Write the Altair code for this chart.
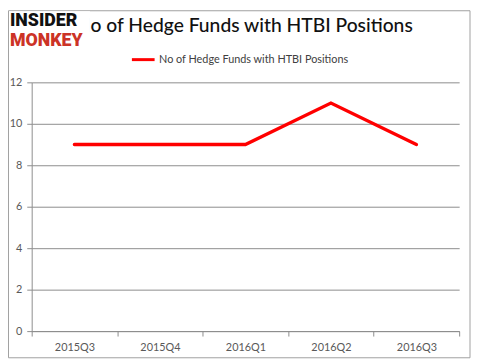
import altair as alt
import pandas as pd

quarters = ["2015Q3", "2015Q4", "2016Q1", "2016Q2", "2016Q3"]
funds = [9, 9, 9, 11, 9]
series_name = "No of Hedge Funds with HTBI Positions"
title_text = "No of Hedge Funds with HTBI Positions"
y_ticks = [0, 2, 4, 6, 8, 10, 12]
logo_words = ["INSIDER", "MONKEY"]

df = pd.DataFrame({"quarter": quarters, "funds": funds, "series": [series_name] * len(quarters)})

FONT = "Lato"
GRAY = "#8C8C8C"

line = alt.Chart(df).mark_line(strokeWidth=3.5, strokeCap="round").encode(
    x=alt.X(
        "quarter:O",
        sort=quarters,
        scale=alt.Scale(type="band", paddingInner=0, paddingOuter=0),
        bandPosition=0.5,
        axis=alt.Axis(
            title=None, labelAngle=0, grid=False, tickBand="extent",
            domainColor=GRAY, tickColor=GRAY, tickSize=5, labelPadding=6,
            labelColor="#595959", labelFont=FONT, labelFontSize=11,
        ),
    ),
    y=alt.Y(
        "funds:Q",
        scale=alt.Scale(domain=[0, 12]),
        axis=alt.Axis(
            title=None, values=y_ticks, grid=True, gridColor=GRAY,
            domainColor=GRAY, tickColor=GRAY, tickSize=5, labelPadding=5,
            labelColor="#595959", labelFont=FONT, labelFontSize=11,
        ),
    ),
    color=alt.Color(
        "series:N",
        scale=alt.Scale(range=["#FF0000"]),
        legend=alt.Legend(
            title=None, orient="none", legendX=100, legendY=-36,
            direction="horizontal", symbolType="stroke", symbolSize=529,
            symbolStrokeWidth=3, labelFont=FONT, labelFontSize=11,
            labelColor="#404040", labelOffset=3, padding=0, labelLimit=0,
        ),
    ),
)

ann_df = pd.DataFrame({"t": [title_text]})
logo_df = pd.DataFrame({"t": logo_words})

title = alt.Chart(ann_df).mark_text(
    font=FONT, fontSize=19.5, fontWeight=500, align="right", baseline="alphabetic", color="#111111"
).encode(text="t:N", x=alt.value(386), y=alt.value(-51))

cover = alt.Chart(ann_df).mark_rect(fill="white").encode(
    x=alt.value(-23), x2=alt.value(59), y=alt.value(-72), y2=alt.value(-33)
)
logo1 = alt.Chart(logo_df.head(1)).mark_text(
    font="Roboto", fontWeight=900, fontSize=18, align="left", baseline="alphabetic", color="#111111"
).encode(text="t:N", x=alt.value(-22), y=alt.value(-57))
logo2 = alt.Chart(logo_df.tail(1)).mark_text(
    font="Roboto", fontWeight=900, fontSize=18, align="left", baseline="alphabetic", color="#CC3326"
).encode(text="t:N", x=alt.value(-22), y=alt.value(-37))

border = alt.Chart(ann_df).mark_rect(filled=False, stroke="#A0A0A0", strokeWidth=1).encode(
    x=alt.value(-23.5), x2=alt.value(444), y=alt.value(-72.5), y2=alt.value(279)
)

chart = alt.layer(line, border, title, cover, logo1, logo2).properties(
    width=433,
    height=252,
    padding={"left": 24, "top": 73, "right": 12, "bottom": 30},
    autosize=alt.AutoSizeParams(type="none"),
).configure_view(stroke=None)

chart.save("out.html", embed_options={"renderer": "svg", "actions": False})
